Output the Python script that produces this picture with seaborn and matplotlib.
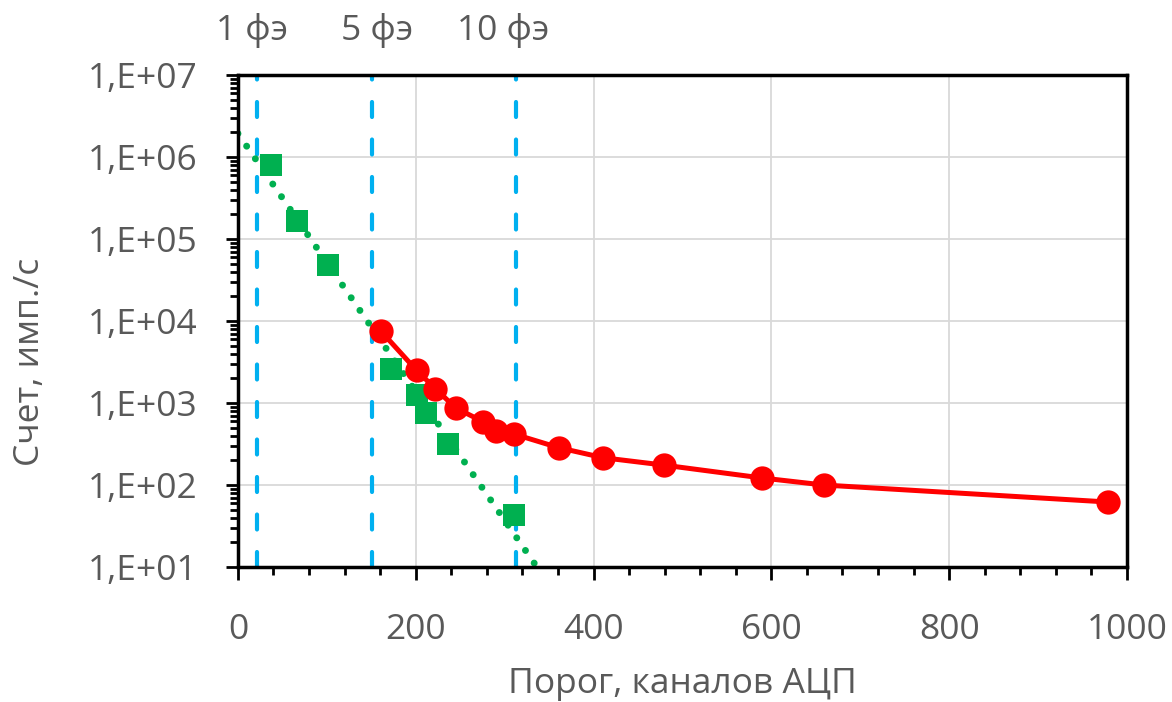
import numpy as np
import pandas as pd
import seaborn as sns
import matplotlib.pyplot as plt
from matplotlib.ticker import FuncFormatter, MultipleLocator, LogLocator, NullFormatter

# green squares (spectrum 1) and red circles (spectrum 2)
green_x = [37, 66, 101, 172, 201, 211, 236, 310]
green_y = [7.9e5, 1.65e5, 4.8e4, 2.6e3, 1.25e3, 7.5e2, 3.2e2, 43]
red_x = [161, 201, 222, 245, 276, 290, 310, 361, 411, 479, 589, 659, 979]
red_y = [7.5e3, 2.5e3, 1.5e3, 870, 590, 460, 420, 285, 215, 175, 122, 100, 62]

# photoelectron thresholds and their captions
pe_x = [21, 151, 313]
pe_label_x = [16, 156, 298]
pe_labels = ["1 фэ", "5 фэ", "10 фэ"]

sns.set_style("white")
plt.rcParams['font.family'] = ['Open Sans', 'DejaVu Sans']

GRAY = "#595959"
FS = 25.5
fig = plt.figure(figsize=(11.72, 7.02), dpi=100)
ax = fig.add_axes([0.203, 0.1923, 0.7586, 0.7008])

df_g = pd.DataFrame({"x": green_x, "y": green_y})
df_r = pd.DataFrame({"x": red_x, "y": red_y})

# exponential trendline through green points (fit of log10(y) vs x)
k, b = np.polyfit(df_g["x"], np.log10(df_g["y"]), 1)
tx = np.linspace(0, 400, 200)
ax.plot(tx, 10 ** (k * tx + b), color="#00B050", lw=5,
        linestyle=(0, (0.01, 2.2)), dash_capstyle="round", zorder=2)

for xv in pe_x:
    ax.axvline(xv, color="#00B0F0", lw=3.0, linestyle=(0, (3.6, 5.4)),
               dash_capstyle="round", zorder=1)

sns.scatterplot(data=df_g, x="x", y="y", marker="s", s=230, color="#00B050",
                edgecolor="#00B050", linewidth=0, ax=ax, zorder=3)
sns.lineplot(data=df_r, x="x", y="y", color="#FF0000", lw=3.6, marker="o",
             markersize=17.5, markeredgewidth=0, ax=ax, zorder=4)

ax.set_yscale("log")
ax.set_xlim(0, 1000)
ax.set_ylim(10, 1e7)

ax.xaxis.set_major_locator(MultipleLocator(200))
ax.xaxis.set_minor_locator(MultipleLocator(40))
ax.yaxis.set_major_locator(LogLocator(base=10, numticks=10))
ax.yaxis.set_minor_locator(LogLocator(base=10, subs=np.arange(2, 10), numticks=20))
ax.yaxis.set_minor_formatter(NullFormatter())
ax.yaxis.set_major_formatter(FuncFormatter(lambda v, p: "1,E+%02d" % round(np.log10(v))))

ax.grid(True, which="major", color="#D9D9D9", lw=1.3)
ax.set_axisbelow(True)
for s in ax.spines.values():
    s.set_color("black")
    s.set_linewidth(2.5)

ax.tick_params(which="major", direction="out", length=9, width=2, color="black",
               labelsize=FS, labelcolor=GRAY, left=True, bottom=True)
ax.tick_params(which="minor", direction="out", length=6, width=2, color="black",
               left=True, bottom=True)
ax.tick_params(axis="y", which="major", pad=20)
ax.tick_params(axis="x", which="major", pad=24)

ax.set_xlabel("Порог, каналов АЦП", fontsize=FS, color=GRAY)
ax.set_ylabel("Счет, имп./с", fontsize=FS, color=GRAY)
ax.xaxis.set_label_coords(0.5, -0.238)
ax.yaxis.set_label_coords(-0.234, 0.417)
ax.xaxis.label.set_va("center")
ax.yaxis.label.set_va("center")

for xv, lab in zip(pe_label_x, pe_labels):
    ax.text(xv, 1.091, lab, transform=ax.get_xaxis_transform(), ha="center",
            va="center", fontsize=FS, color=GRAY)

fig.savefig("out.png", dpi=100)
